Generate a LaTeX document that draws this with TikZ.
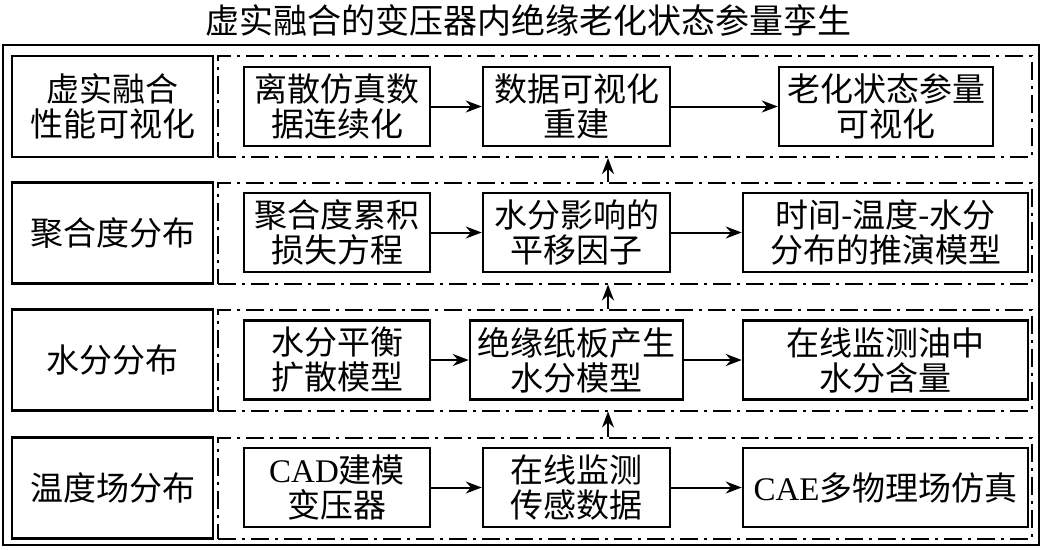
\documentclass[tikz,border=0pt]{standalone}
\usepackage{fontspec}
\setmainfont{Liberation Serif}
\newfontfamily\cjk{Noto Sans CJK SC}
\usetikzlibrary{arrows.meta}

\begin{document}
\begin{tikzpicture}[x=1pt,y=-1pt,>={Stealth[length=16pt,width=12pt]},
  every node/.style={font=\cjk\fontsize{33}{35}\selectfont,align=center,inner sep=0pt},
  lbox/.style={draw,line width=2.5pt,minimum width=201pt,minimum height=101pt},
  grpbox/.style={draw,line width=2pt,dash pattern=on 18pt off 6pt on 3pt off 6pt,minimum width=814pt,minimum height=101pt},
  ibox/.style={draw,line width=2.5pt,minimum height=79pt},
  link/.style={->,line width=2pt}]
  \useasboundingbox (0,0) rectangle (1043,549);
  \node[font=\cjk\fontsize{34}{36}\selectfont] (title) at (528,20) {虚实融合的变压器内绝缘老化状态参量孪生};
  \draw[line width=2.5pt] (3,45) rectangle (1039,545);

  % row labels and groups
  \node[lbox] (lab1) at (112.5,106.5) {虚实融合\\性能可视化};
  \node[lbox] (lab2) at (112.5,233) {聚合度分布};
  \node[lbox] (lab3) at (112.5,360) {水分分布};
  \node[lbox] (lab4) at (112.5,488) {温度场分布};
  \node[grpbox] (grp1) at (625,106.5) {};
  \node[grpbox] (grp2) at (625,233) {};
  \node[grpbox] (grp3) at (625,360) {};
  \node[grpbox] (grp4) at (625,488) {};

  % row 1
  \node[ibox,minimum width=186pt] (n11) at (337,106.5) {离散仿真数\\据连续化};
  \node[ibox,minimum width=187pt] (n12) at (576.5,106.5) {数据可视化\\重建};
  \node[ibox,minimum width=214pt] (n13) at (886,106.5) {老化状态参量\\可视化};
  % row 2
  \node[ibox,minimum width=186pt] (n21) at (337,232.5) {聚合度累积\\损失方程};
  \node[ibox,minimum width=187pt] (n22) at (576.5,232.5) {水分影响的\\平移因子};
  \node[ibox,minimum width=285pt] (n23) at (885.5,232.5) {时间-温度-水分\\分布的推演模型};
  % row 3
  \node[ibox,minimum width=186pt] (n31) at (337,360) {水分平衡\\扩散模型};
  \node[ibox,minimum width=213pt] (n32) at (576.5,360) {绝缘纸板产生\\水分模型};
  \node[ibox,minimum width=285pt] (n33) at (885.5,360) {在线监测油中\\水分含量};
  % row 4
  \node[ibox,minimum width=186pt] (n41) at (337,487.5) {{\rmfamily CAD}建模\\变压器};
  \node[ibox,minimum width=187pt] (n42) at (576.5,487.5) {在线监测\\传感数据};
  \node[ibox,minimum width=285pt] (n43) at (885.5,487.5) {{\rmfamily CAE}多物理场仿真};

  \foreach \r in {1,2,3,4}{
    \draw[link] (n\r1) -- (n\r2);
    \draw[link] (n\r2) -- (n\r3);
  }
  \coordinate (ax) at (608,0);
  \draw[link] (grp4.north -| ax) -- (grp3.south -| ax);
  \draw[link] (grp3.north -| ax) -- (grp2.south -| ax);
  \draw[link] (grp2.north -| ax) -- (grp1.south -| ax);
\end{tikzpicture}
\end{document}
